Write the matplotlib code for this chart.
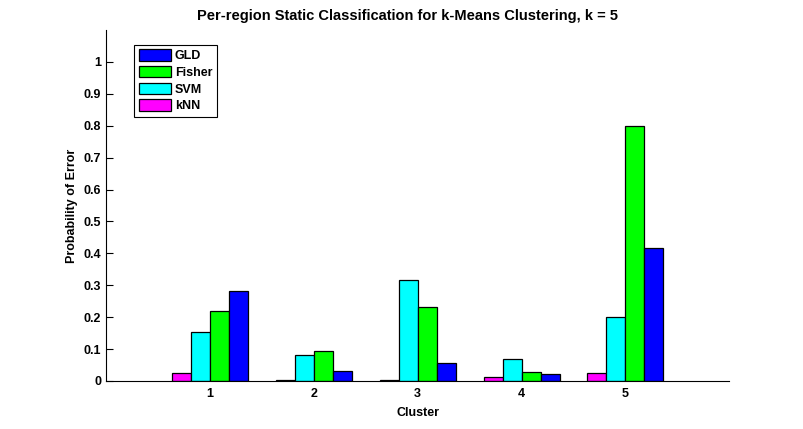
""" Per-region static classification error for k-means clusters, grouped bars """

import numpy as np
from matplotlib import pyplot as plt

plt.rcParams['font.family'] = ['Liberation Sans', 'DejaVu Sans']

# Probability of error per cluster
clusters = [1, 2, 3, 4, 5]
knn = [0.025, 0.003, 0.002, 0.013, 0.025]
svm = [0.154, 0.081, 0.318, 0.069, 0.200]
fisher = [0.220, 0.094, 0.232, 0.028, 0.800]
gld = [0.283, 0.031, 0.056, 0.022, 0.418]

series = [("kNN", knn, "#ff00ff"), ("SVM", svm, "#00ffff"),
          ("Fisher", fisher, "#00ff00"), ("GLD", gld, "#0000ff")]

fig = plt.figure(figsize=(8.04, 4.29), dpi=100)
ax = fig.add_axes([0.132, 0.112, 0.775, 0.818])

x = np.array(clusters, dtype=float)
width = 0.183
handles = {}
for i, (name, vals, col) in enumerate(series):
    offset = (i - 1.5) * width
    bars = ax.bar(x + offset, vals, width, color=col, edgecolor="black", linewidth=0.9)
    handles[name] = bars

ax.set_xlim(0, 6)
ax.set_ylim(0, 1.1)
ax.set_xticks(clusters)
ax.set_yticks(np.arange(0, 1.01, 0.1))
ax.set_yticklabels(["0", "0.1", "0.2", "0.3", "0.4", "0.5", "0.6", "0.7", "0.8", "0.9", "1"])
ax.tick_params(direction="in", labelsize=9, length=5)
ax.tick_params(axis="x", length=0, pad=5)
for lab in ax.get_xticklabels() + ax.get_yticklabels():
    lab.set_fontweight("bold")
ax.spines["top"].set_visible(False)
ax.spines["right"].set_visible(False)

ax.set_title("Per-region Static Classification for k-Means Clustering, k = 5",
             fontsize=10.5, fontweight="bold", pad=7, x=0.484)
ax.set_xlabel("Cluster", fontsize=9, fontweight="bold", labelpad=5)
ax.set_ylabel("Probability of Error", fontsize=9, fontweight="bold", labelpad=4)

order = ["GLD", "Fisher", "SVM", "kNN"]
leg = ax.legend([handles[n] for n in order], order, loc="upper left",
                bbox_to_anchor=(0.045, 0.957), fancybox=False, framealpha=1,
                edgecolor="black", prop={"size": 9, "weight": "bold"},
                handlelength=2.6, handleheight=1.0, labelspacing=0.3,
                borderpad=0.35, handletextpad=0.3, borderaxespad=0)
leg.get_frame().set_linewidth(0.8)

plt.savefig("out.png", dpi=100)
